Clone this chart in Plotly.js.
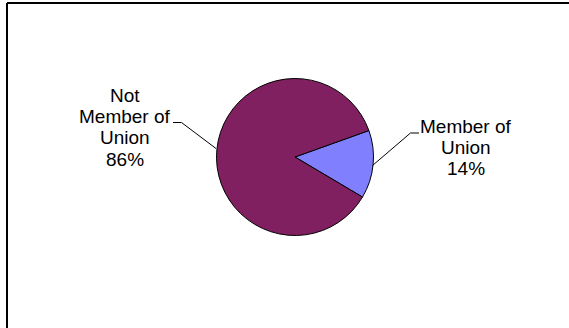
<!DOCTYPE html>
<html>
<head>
<meta charset="utf-8">
<script src="https://cdn.plot.ly/plotly-3.0.1.min.js"></script>
<style>html,body{margin:0;padding:0;background:#fff;}#chart{width:569px;height:328px;}</style>
</head>
<body>
<div id="chart"></div>
<script>
// Data
const categories = ["Member of Union", "Not Member of Union"];
const values = [14, 86];
const labelLines = [["Member of", "Union"], ["Not", "Member of", "Union"]];
const colors = ["#8080FF", "#802060"];

const W = 569, H = 328;
const px = x => x / W;
const py = y => 1 - y / H;

// pie geometry (pixels)
const cx = 295, cy = 157, r = 78.5;

const total = values.reduce((a, b) => a + b, 0);
const pct = values.map(v => Math.round(v / total * 100) + "%");

const trace = {
  type: "pie",
  labels: categories,
  values: values,
  sort: false,
  direction: "clockwise",
  rotation: 70.3,
  textinfo: "none",
  hoverinfo: "label+percent",
  marker: { colors: colors, line: { color: "#000", width: 1 } },
  domain: { x: [px(cx - r), px(cx + r)], y: [py(cy + r), py(cy - r)] },
  showlegend: false
};

// label layout (pixels): center x, first line middle y
const labelPos = [
  { x: 466, y: 126.1 },
  { x: 125, y: 95.1 }
];
const lineStep = 21.4;

const annotations = [];
categories.forEach((c, i) => {
  const lines = labelLines[i].concat([pct[i]]);
  lines.forEach((t, k) => {
    annotations.push({
      xref: "paper", yref: "paper",
      x: px(labelPos[i].x), y: py(labelPos[i].y + k * lineStep),
      xanchor: "center", yanchor: "middle",
      text: t, showarrow: false,
      font: { family: "Arial, 'Liberation Sans', sans-serif", size: 19, color: "#000" }
    });
  });
});

function seg(x0, y0, x1, y1, w) {
  return { type: "line", xref: "paper", yref: "paper",
    x0: px(x0), y0: py(y0), x1: px(x1), y1: py(y1),
    line: { color: "#000", width: w || 1 } };
}

const shapes = [
  // frame
  seg(7, 3, 575, 3, 2),
  seg(7, 3, 7, 335, 2),
  // leader lines
  seg(216, 148.5, 181.5, 122.5), seg(181.5, 122.5, 173, 122.5),
  seg(372.5, 165.5, 410.5, 133), seg(410.5, 133, 419, 133)
];

Plotly.newPlot("chart", [trace], {
  width: W, height: H,
  margin: { l: 0, r: 0, t: 0, b: 0 },
  paper_bgcolor: "#fff",
  plot_bgcolor: "#fff",
  annotations: annotations,
  shapes: shapes,
  showlegend: false
}, { displayModeBar: false, staticPlot: true });
</script>
</body>
</html>
